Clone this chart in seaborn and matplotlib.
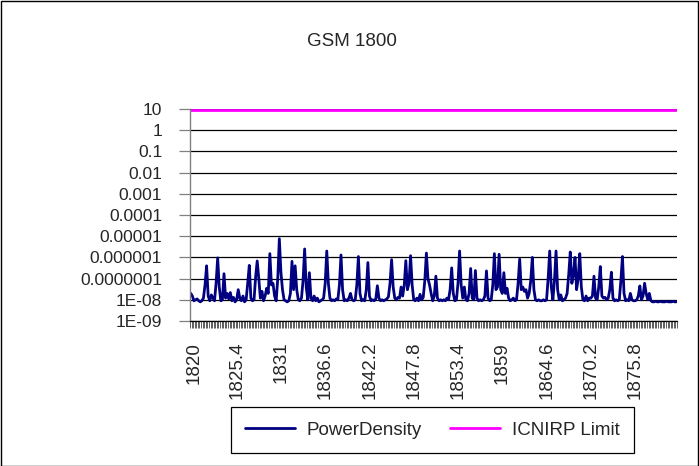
import numpy as np
import pandas as pd
import matplotlib
matplotlib.use("Agg")
import matplotlib.pyplot as plt
import matplotlib.ticker as mticker
import matplotlib.transforms as mtransforms
from matplotlib.patches import Rectangle
import seaborn as sns

# ---------------- data ----------------
freq_start = 1820.0
freq_step = 0.2
power_density = [
    2e-8, 1.5e-8, 9e-9, 1e-8, 1.1e-8, 9e-9, 8e-9, 9e-9, 1.2e-8, 5e-8,
    4e-7, 1.5e-8, 9e-9, 1.7e-8, 1.2e-8, 9e-9, 6e-8, 9.5e-7, 4e-8, 9e-9,
    1e-8, 1.7e-7, 1.2e-8, 2e-8, 1.1e-8, 2.2e-8, 9e-9, 1.3e-8, 8e-9, 1e-8,
    3e-8, 1.2e-8, 9e-9, 1.5e-8, 8e-9, 1e-8, 6e-8, 4.2e-7, 1.2e-8, 9e-9,
    1e-8, 1.2e-7, 6.8e-7, 1e-7, 1.2e-8, 2.5e-8, 9e-9, 1.5e-8, 3.5e-8, 2e-8,
    1.5e-6, 5e-8, 6e-8, 1.5e-8, 9e-9, 1e-7, 7.6e-6, 2e-7, 3e-8, 1e-8,
    9e-9, 8e-9, 9e-9, 2e-8, 6.5e-7, 3e-8, 4e-7, 3e-8, 1e-8, 9e-9,
    1.2e-8, 8e-8, 2.5e-6, 4e-8, 1e-8, 1.9e-7, 1.2e-8, 9e-9, 1.5e-8, 9e-9,
    1.2e-8, 8e-9, 9e-9, 1e-8, 1.2e-8, 6e-8, 2e-6, 6e-8, 1.2e-8, 9e-9,
    1e-8, 9e-9, 1.1e-8, 1e-8, 5e-8, 1.3e-6, 3e-8, 9e-9, 1e-8, 9e-9,
    1.2e-8, 2e-8, 1e-8, 9e-9, 1e-8, 5e-8, 1.1e-6, 2e-8, 9e-9, 1e-8,
    9e-9, 3e-8, 5.7e-7, 1.5e-8, 9e-9, 1e-8, 9e-9, 1.1e-8, 4.6e-8, 1.2e-8,
    9e-9, 1e-8, 9e-9, 1e-8, 1.1e-8, 1.4e-8, 6e-8, 7.8e-7, 4e-8, 1.2e-8,
    1e-8, 1.3e-8, 1.2e-8, 4e-8, 1.5e-8, 5e-8, 7e-7, 3e-8, 6e-8, 1.2e-6,
    5e-8, 1e-8, 9e-9, 1.2e-8, 9e-9, 1.8e-8, 1e-8, 1.3e-8, 8e-8, 1.6e-6,
    1e-7, 5e-8, 2e-8, 9e-9, 1.5e-8, 1.3e-7, 1.2e-8, 9e-9, 1e-8, 9e-9,
    1e-8, 9e-9, 1.2e-8, 1e-8, 3e-8, 3.2e-7, 2e-8, 9e-9, 1e-8, 6e-8,
    2e-6, 5e-8, 1.2e-8, 4e-8, 1e-8, 9e-9, 2e-8, 3e-7, 1.2e-8, 1e-8,
    2.4e-7, 1.2e-8, 9e-9, 1e-8, 9e-9, 1e-8, 1.5e-8, 2.3e-7, 1.2e-8, 9e-9,
    1e-8, 5e-8, 1.5e-6, 3e-8, 4e-8, 1.4e-6, 3e-8, 2e-8, 1.9e-7, 2e-8,
    3.5e-8, 1.2e-8, 9e-9, 1e-8, 1.2e-8, 9e-9, 1e-8, 6e-8, 8.3e-7, 3e-8,
    4e-8, 2.5e-8, 3e-8, 1.2e-8, 2e-8, 8e-8, 1e-6, 3e-8, 1e-8, 9e-9,
    1e-8, 9e-9, 9e-9, 1e-8, 9e-9, 1e-8, 1e-7, 2e-6, 4e-8, 1e-8,
    8e-8, 2e-6, 3e-8, 1e-8, 1.7e-8, 9e-9, 1e-8, 1.2e-8, 2e-8, 1.5e-7,
    1.8e-6, 6e-8, 1.5e-7, 1e-6, 3e-8, 1e-7, 1.5e-6, 4e-8, 1e-8, 9e-9,
    1.5e-8, 9e-9, 1.2e-8, 1.2e-8, 1.5e-8, 1.3e-7, 1.2e-8, 1e-8, 4e-8, 3.7e-7,
    1.5e-8, 1.2e-8, 1.3e-8, 1e-8, 1.2e-8, 3e-8, 2e-7, 1.2e-8, 9e-9, 1e-8,
    9e-9, 1e-8, 8e-8, 1.1e-6, 2e-8, 9e-9, 1e-8, 9e-9, 2e-8, 1e-8,
    9e-9, 9e-9, 1e-8, 1.5e-8, 4.5e-8, 1e-8, 1.5e-8, 6e-8, 2e-8, 1e-8,
    2e-8, 9e-9, 8e-9, 8e-9, 8.5e-9, 8e-9, 8e-9, 8.5e-9, 8e-9, 8e-9,
    8e-9, 8.5e-9, 8e-9, 8e-9, 8e-9, 8.5e-9, 8e-9, 8e-9,
]
icnirp_limit_value = 9.0
x_tick_labels = ["1820", "1825.4", "1831", "1836.6", "1842.2", "1847.8",
                 "1853.4", "1859", "1864.6", "1870.2", "1875.8"]
y_tick_values = [1e1, 1e0, 1e-1, 1e-2, 1e-3, 1e-4, 1e-5, 1e-6, 1e-7, 1e-8, 1e-9]
y_tick_labels = ["10", "1", "0.1", "0.01", "0.001", "0.0001", "0.00001",
                 "0.000001", "0.0000001", "1E-08", "1E-09"]

n = len(power_density)
freqs = np.round(freq_start + freq_step * np.arange(n), 1)

df = pd.concat([
    pd.DataFrame({"freq": freqs, "value": power_density, "series": "PowerDensity"}),
    pd.DataFrame({"freq": freqs, "value": [icnirp_limit_value] * n, "series": "ICNIRP Limit"}),
])

# ---------------- figure ----------------
sns.set_style("white")
plt.rcParams["font.family"] = ["Liberation Sans", "DejaVu Sans"]

W, H = 699, 466
fig = plt.figure(figsize=(W / 100, H / 100), dpi=100)
L, R, T, B = 190, 677, 109, 321
ax = fig.add_axes([L / W, 1 - B / H, (R - L) / W, (B - T) / H])

sns.lineplot(data=df, x="freq", y="value", hue="series",
             palette={"PowerDensity": "#000080", "ICNIRP Limit": "#FF00FF"},
             linewidth=2, ax=ax, legend=True)

ax.set_yscale("log")
ax.set_ylim(1e-9, 10)
ax.set_xlim(freq_start - freq_step / 2, freqs[-1] + freq_step / 2)

ax.yaxis.set_major_locator(mticker.FixedLocator(y_tick_values))
ax.yaxis.set_major_formatter(mticker.FixedFormatter(y_tick_labels))
ax.yaxis.set_minor_locator(mticker.NullLocator())
ax.grid(axis="y", which="major", color="black", linewidth=0.9)
ax.grid(axis="x", visible=False)
ax.tick_params(axis="y", which="major", length=8, width=0.9, color="#808080",
               direction="out", labelsize=12.5, pad=12, left=True)

tick_pos = [float(t) for t in x_tick_labels]
ax.xaxis.set_major_locator(mticker.FixedLocator(tick_pos))
ax.xaxis.set_major_formatter(mticker.FixedFormatter(x_tick_labels))
boundaries = list(freqs - freq_step / 2) + [freqs[-1] + freq_step / 2]
ax.xaxis.set_minor_locator(mticker.FixedLocator(boundaries))
ax.tick_params(axis="x", which="major", length=0, labelsize=13.5, pad=15,
               labelrotation=90)
ax.tick_params(axis="x", which="minor", length=5, width=0.6, color="#444444",
               direction="out", bottom=True)
shift = mtransforms.ScaledTranslation(3.5 / 100, 0, fig.dpi_scale_trans)
for lab in ax.get_xticklabels():
    lab.set_verticalalignment("top")
    lab.set_transform(lab.get_transform() + shift)

for s in ["top", "right"]:
    ax.spines[s].set_visible(False)
ax.spines["left"].set_color("#808080")
ax.spines["left"].set_linewidth(1.0)
ax.spines["bottom"].set_color("black")
ax.spines["bottom"].set_linewidth(0.9)
ax.set_xlabel("")
ax.set_ylabel("")

fig.text(352 / W, 1 - 42 / H, "GSM 1800", ha="center", va="center", fontsize=13.5)

sns.move_legend(ax, "center", bbox_to_anchor=((232 + 632) / 2 / W, 1 - 430 / H),
                bbox_transform=fig.transFigure, ncol=2, title=None,
                frameon=True, fancybox=False, edgecolor="black",
                fontsize=13.5, handlelength=2.7, handletextpad=0.6,
                columnspacing=1.5, borderpad=0.75, framealpha=1)
leg = ax.get_legend()
leg.get_frame().set_linewidth(0.9)
leg.set_zorder(10)
ax.set_zorder(3)

fig.patches.append(Rectangle((0.5 / W, 0.5 / H), 1 - 1.5 / W, 1 - 1.5 / H,
                             transform=fig.transFigure, fill=False,
                             edgecolor="black", linewidth=1))

fig.savefig("out.png", dpi=100)
